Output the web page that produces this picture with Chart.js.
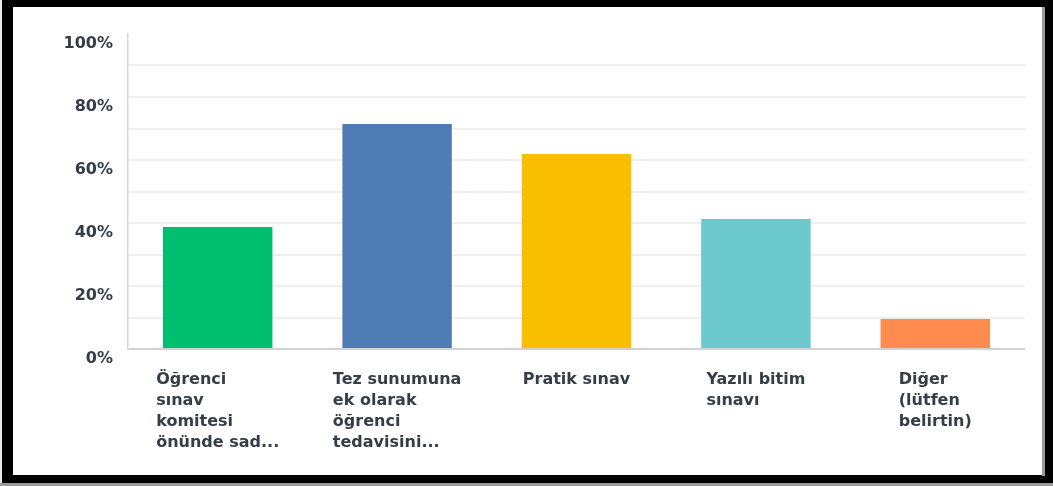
<!DOCTYPE html>
<html lang="tr">
<head>
    <meta charset="UTF-8">
    <title>Sınav türleri</title>
    <style>
        body {
            margin: 0;
            background-color: #000;
            width: 1053px;
            height: 486px;
            overflow: hidden;
            position: relative;
        }
        .edge-left {
            position: absolute; left: 0; top: 0; width: 2px; height: 486px;
            background: #e8e8e8;
        }
        .edge-right {
            position: absolute; left: 1042px; top: 7px; width: 3px; height: 469px;
            background: #9a9a9a;
        }
        .edge-bottom {
            position: absolute; left: 0; top: 483px; width: 1053px; height: 3px;
            background: #9a9a9a;
        }
        .panel {
            position: absolute;
            left: 13px;
            top: 7px;
            width: 1029px;
            height: 468px;
            background-color: #fff;
        }
    </style>
</head>
<body>
    <div class="edge-left"></div>
    <div class="edge-right"></div>
    <div class="edge-bottom"></div>
    <div class="panel">
        <canvas id="answersChart"></canvas>
    </div>
    <script src="https://cdn.jsdelivr.net/npm/chart.js@4.4.1/dist/chart.umd.min.js"></script>
    <script>
        // answer options, each split into the lines shown under the bars
        var categories = [
            ['Öğrenci', 'sınav', 'komitesi', 'önünde sad...'],
            ['Tez sunumuna', 'ek olarak', 'öğrenci', 'tedavisini...'],
            ['Pratik sınav'],
            ['Yazılı bitim', 'sınavı'],
            ['Diğer', '(lütfen', 'belirtin)']
        ];
        var percentages = [38.7, 71.4, 61.9, 41.3, 9.5];
        var barColors = ['#00bf6f', '#507cb6', '#f9be00', '#6bc8cd', '#ff8b4f'];
        var yTicks = [0, 20, 40, 60, 80, 100];

        var textColor = '#333e48';
        var labelFont = 'bold 16px "DejaVu Sans"';

        // draws the category labels as left-aligned blocks centred under each bar
        var blockLabels = {
            id: 'blockLabels',
            afterDraw: function(chart) {
                var ctx = chart.ctx;
                var xScale = chart.scales.x;
                ctx.save();
                ctx.font = labelFont;
                ctx.fillStyle = textColor;
                ctx.textAlign = 'left';
                ctx.textBaseline = 'alphabetic';
                categories.forEach(function(lines, i) {
                    var maxW = 0;
                    lines.forEach(function(line) {
                        maxW = Math.max(maxW, ctx.measureText(line).width);
                    });
                    var x0 = xScale.getPixelForTick(i) - maxW / 2;
                    lines.forEach(function(line, j) {
                        ctx.fillText(line, x0, xScale.top + 35 + j * 21);
                    });
                });
                ctx.restore();
            }
        };

        var ctx = document.getElementById('answersChart').getContext('2d');
        var answersChart = new Chart(ctx, {
            type: 'bar',
            data: {
                labels: categories.map(function(c) { return c.join(' '); }),
                datasets: [{
                    data: percentages,
                    backgroundColor: barColors,
                    borderWidth: 0,
                    categoryPercentage: 1,
                    barPercentage: 0.61
                }]
            },
            options: {
                responsive: true,
                maintainAspectRatio: false,
                animation: false,
                layout: {
                    padding: { top: 27, right: 17, left: 0, bottom: 0 }
                },
                plugins: {
                    legend: { display: false },
                    tooltip: { enabled: false }
                },
                scales: {
                    x: {
                        grid: { display: false },
                        border: { display: false },
                        ticks: { display: false },
                        afterFit: function(scale) { scale.height = 126; }
                    },
                    y: {
                        min: 0,
                        max: 100,
                        afterFit: function(scale) { scale.width = 115; },
                        ticks: {
                            stepSize: 10,
                            padding: 15,
                            labelOffset: 10,
                            color: textColor,
                            font: { family: 'DejaVu Sans', size: 16, weight: 'bold' },
                            callback: function(value) {
                                return yTicks.indexOf(value) >= 0 ? value + '%' : '';
                            }
                        },
                        grid: {
                            drawTicks: false,
                            lineWidth: 2,
                            color: function(c) {
                                if (!c.tick) return '#efefef';
                                if (c.tick.value === 100) return 'rgba(0,0,0,0)';
                                if (c.tick.value === 0) return '#d2d2d2';
                                return '#efefef';
                            }
                        },
                        border: { color: '#d6d6d6', width: 1.5 }
                    }
                }
            },
            plugins: [blockLabels]
        });
    </script>
</body>
</html>
